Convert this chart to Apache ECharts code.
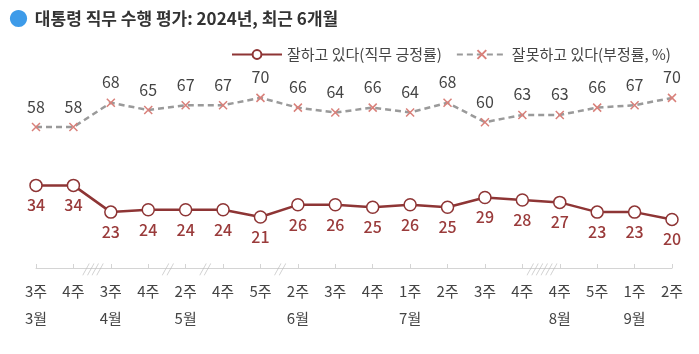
<!DOCTYPE html>
<html><head><meta charset="utf-8">
<script src="https://cdn.jsdelivr.net/npm/echarts@6/dist/echarts.min.js"></script>
<style>html,body{margin:0;padding:0;background:#fff}#c{width:699px;height:354px}</style>
</head><body><div id="c"></div>
<script>
const weeks = ['3주','4주','3주','4주','2주','4주','5주','2주','3주','4주','1주','2주','3주','4주','4주','5주','1주','2주'];
const months = ['3월','','4월','','5월','','','6월','','','7월','','','','8월','','9월',''];
const approve = [34,34,23,24,24,24,21,26,26,25,26,25,29,28,27,23,23,20];
const disapprove = [58,58,68,65,67,67,70,66,64,66,64,68,60,63,63,66,67,70];
const breakPos = [1.5,3.5,4.5,6.5,13.5];
const breakMarks = ['////','//','//','//','//////'];

const FONT = '"Noto Sans CJK KR", "Noto Sans", sans-serif';
const xSym = 'path://M0,0L10,10M10,0L0,10';
const chart = echarts.init(document.getElementById('c'), null, {renderer:'canvas'});
chart.setOption({
  animation:false,
  textStyle:{fontFamily:FONT},
  title:{
    text:'{d|●} 대통령 직무 수행 평가: 2024년, 최근 6개월',
    left:4, top:4,
    textStyle:{fontFamily:FONT, fontSize:17, fontWeight:'bold', color:'#333',
      rich:{d:{fontSize:19, color:'#3d9be9', fontWeight:'bold', padding:[0,3,0,0]}}}
  },
  legend:{
    top:42, left:226, itemWidth:50, itemHeight:11, itemGap:14,
    textStyle:{fontFamily:FONT, fontSize:15, color:'#444'},
    data:['잘하고 있다(직무 긍정률)','잘못하고 있다(부정률, %)']
  },
  grid:{left:36, right:27, top:25, bottom:86},
  xAxis:[{
    type:'category', data:weeks, boundaryGap:false,
    axisLine:{lineStyle:{color:'#d4d4d4', width:1}},
    axisTick:{inside:true, length:4, lineStyle:{color:'#d4d4d4'}},
    axisLabel:{margin:10, color:'#444', fontSize:15, lineHeight:27, fontFamily:FONT,
      formatter:(v,i)=> months[i] ? v + '\n' + months[i] : v + '\n '}
  },{
    type:'value', min:0, max:weeks.length-1, show:false
  }],
  yAxis:{type:'value', min:0, max:100, show:false, splitLine:{show:false}},
  series:[
    {
      name:'잘하고 있다(직무 긍정률)', type:'line', data:approve,
      symbol:'circle', symbolSize:12, showAllSymbol:true,
      lineStyle:{color:'#8e3535', width:2.5},
      itemStyle:{color:'#fff', borderColor:'#8e3535', borderWidth:1.5},
      label:{show:true, position:'bottom', distance:5, color:'#9a3b3b', fontSize:16, fontFamily:FONT, fontWeight:500}
    },
    {
      name:'잘못하고 있다(부정률, %)', type:'line', data:disapprove,
      symbol:xSym, symbolSize:8, showAllSymbol:true,
      lineStyle:{color:'#9a9a9a', width:2.5, type:[6,4]},
      itemStyle:{color:'none', borderColor:'#d9807a', borderWidth:1.5},
      label:{show:true, position:'top', distance:6, color:'#444', fontSize:16, fontFamily:FONT}
    },
    {
      type:'scatter', xAxisIndex:1, silent:true, symbolSize:0,
      data:breakPos.map((p,i)=>({value:[p,0], label:{formatter:breakMarks[i]}})),
      label:{show:true, position:'top', distance:-6, color:'#bdbdbd', fontSize:12, fontStyle:'italic', fontFamily:FONT}
    }
  ]
});
</script></body></html>
